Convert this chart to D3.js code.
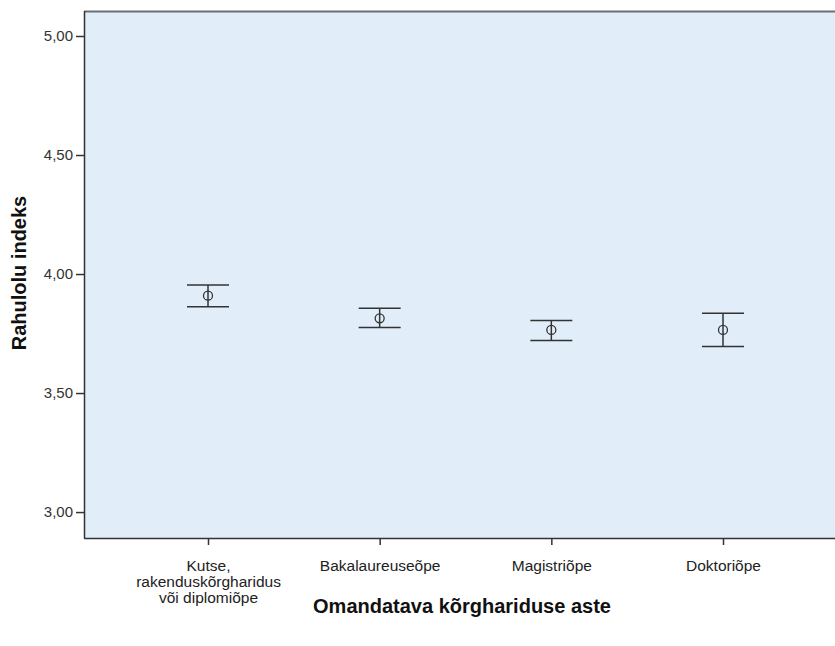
<!DOCTYPE html>
<html><head><meta charset="utf-8">
<script src="https://cdn.jsdelivr.net/npm/d3@7/dist/d3.min.js"></script>
<style>body{margin:0;background:#fff}svg{display:block}text{font-family:"Liberation Sans",Arial,sans-serif}</style>
</head><body><svg id="c" width="835" height="646"></svg>
<script>
const categories = ["Kutse,\nrakenduskõrgharidus\nvõi diplomiõpe","Bakalaureuseõpe","Magistriõpe","Doktoriõpe"];
const means = [3.909, 3.814, 3.765, 3.765];
const lower = [3.862, 3.775, 3.721, 3.695];
const upper = [3.954, 3.856, 3.805, 3.835];
const yTicks = [3.0, 3.5, 4.0, 4.5, 5.0];
const yTickLabels = ["3,00","3,50","4,00","4,50","5,00"];

(function(){
const svg = d3.select("#c");
const pL = 84, pR = 835, pT = 11, pB = 538;
const y = d3.scaleLinear().domain([2.891, 5.105]).range([pB, pT]);
const x = d3.scalePoint().domain(categories).range([208, 723]);

svg.append("rect").attr("x", pL).attr("y", pT).attr("width", pR-pL).attr("height", pB-pT).attr("fill", "#e1eef9");
svg.append("line").attr("x1", pL).attr("x2", pR).attr("y1", pT+0.5).attr("y2", pT+0.5).attr("stroke", "#6b6f73").attr("stroke-width", 2);

const yAxis = d3.axisLeft(y).tickValues(yTicks).tickFormat((d,i)=>yTickLabels[i]).tickSize(8).tickPadding(3);
const gy = svg.append("g").attr("transform", `translate(${pL},0)`).call(yAxis);
gy.select(".domain").attr("d", `M0.5,${pT}V${pB}`).attr("stroke", "#333").attr("stroke-width", 1.5);
gy.selectAll(".tick line").attr("stroke", "#333").attr("stroke-width", 1.5);
gy.selectAll(".tick text").attr("font-size", 15).attr("fill", "#333").attr("font-family", "Liberation Sans, Arial, sans-serif");

const xAxis = d3.axisBottom(x).tickSize(7).tickFormat("");
const gx = svg.append("g").attr("transform", `translate(0,${pB})`).call(xAxis);
gx.select(".domain").attr("d", `M${pL},0.5H${pR}`).attr("stroke", "#333").attr("stroke-width", 1.5);
gx.selectAll(".tick line").attr("stroke", "#333").attr("stroke-width", 1.5);
gx.selectAll(".tick").each(function(d){
  const t = d3.select(this).append("text").attr("fill", "#222").attr("font-size", 15.5).attr("text-anchor", "middle")
    .attr("font-family", "Liberation Sans, Arial, sans-serif");
  d.split("\n").forEach((s,i)=>t.append("tspan").attr("x",0).attr("y", 33 + i*16).text(s));
});

const g = svg.append("g");
categories.forEach((c,i)=>{
  const cx = x(c);
  g.append("line").attr("x1",cx).attr("x2",cx).attr("y1",y(upper[i])).attr("y2",y(lower[i])).attr("stroke","#333").attr("stroke-width",1.5);
  [upper[i], lower[i]].forEach(v=>{
    g.append("line").attr("x1",cx-21).attr("x2",cx+21).attr("y1",y(v)).attr("y2",y(v)).attr("stroke","#333").attr("stroke-width",1.5);
  });
  g.append("circle").attr("cx",cx).attr("cy",y(means[i])).attr("r",4.5).attr("fill","none").attr("stroke","#333").attr("stroke-width",1.3);
});

svg.append("text").attr("x", 462).attr("y", 613).attr("text-anchor","middle").attr("font-size",20).attr("font-weight","bold").attr("fill","#111")
  .text("Omandatava kõrghariduse aste");
svg.append("text").attr("transform","translate(26,273) rotate(-90)").attr("text-anchor","middle").attr("font-size",20).attr("font-weight","bold").attr("fill","#111")
  .text("Rahulolu indeks");
})();
</script></body></html>
